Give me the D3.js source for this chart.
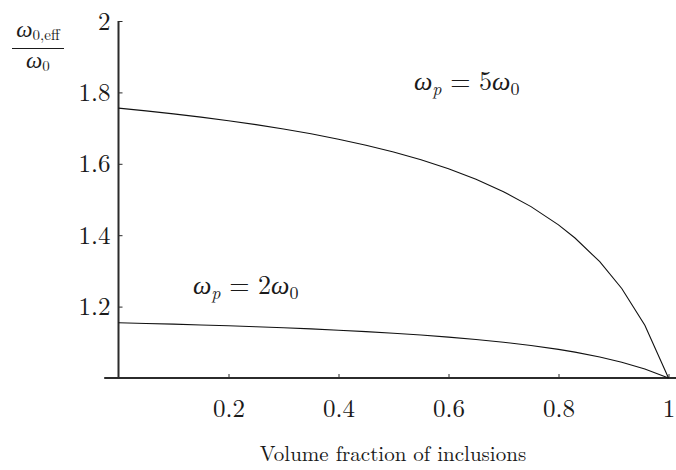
<!DOCTYPE html>
<html>
<head>
<meta charset="utf-8">
<script src="https://cdn.jsdelivr.net/npm/d3@7"></script>
<style>
  html, body { margin: 0; padding: 0; background: #fff; }
  svg { display: block; }
  text { font-family: "Latin Modern Roman", "Liberation Serif", serif; fill: #1a1a1a; }
</style>
</head>
<body>
<svg id="chart" width="676" height="470"></svg>
<script>
// ---- data ----
const fraction = [0, 0.05, 0.1, 0.15, 0.2, 0.25, 0.3, 0.35, 0.4, 0.45, 0.5, 0.55, 0.6, 0.65, 0.7, 0.75, 0.8, 0.83, 0.875, 0.915, 0.957, 1];
const omegaP5 = [1.7559, 1.7482, 1.7398, 1.7307, 1.7207, 1.7097, 1.6976, 1.6841, 1.6690, 1.6521, 1.6330, 1.6111, 1.5859, 1.5565, 1.5218, 1.4800, 1.4289, 1.3922, 1.3257, 1.2508, 1.1478, 1.0];
const omegaP2 = [1.1547, 1.1528, 1.1508, 1.1486, 1.1462, 1.1435, 1.1407, 1.1375, 1.1339, 1.1299, 1.1255, 1.1204, 1.1146, 1.1080, 1.1002, 1.0911, 1.0801, 1.0724, 1.0589, 1.0442, 1.0251, 1.0];
const xTicks = [0.2, 0.4, 0.6, 0.8, 1];
const xTickLabels = ["0.2", "0.4", "0.6", "0.8", "1"];
const yTicks = [1.2, 1.4, 1.6, 1.8, 2];
const yTickLabels = ["1.2", "1.4", "1.6", "1.8", "2"];
const xTitle = "Volume fraction of inclusions";

// ---- layout ----
const FONT = '"Latin Modern Roman", "Liberation Serif", serif';
const svg = d3.select("#chart");
const x = d3.scaleLinear().domain([0, 1]).range([118.5, 668.5]);
const y = d3.scaleLinear().domain([1, 2]).range([378, 21]);
const axisColor = "#2b2b2b";

// x axis
const gx = svg.append("g").attr("transform", `translate(0,${y(1)})`)
  .call(d3.axisBottom(x).tickValues(xTicks)
    .tickFormat((d, i) => xTickLabels[i])
    .tickSizeInner(-4).tickSizeOuter(0).tickPadding(21));
gx.select(".domain").remove();
gx.selectAll(".tick line").attr("stroke", axisColor).attr("stroke-width", 1);
gx.selectAll(".tick text").attr("font-size", 25).attr("font-family", FONT).attr("fill", "#1a1a1a");
gx.append("line").attr("x1", x(-0.026)).attr("x2", 676).attr("y1", 0).attr("y2", 0)
  .attr("stroke", axisColor).attr("stroke-width", 2);

// y axis
const gy = svg.append("g").attr("transform", `translate(${x(0)},0)`)
  .call(d3.axisLeft(y).tickValues(yTicks)
    .tickFormat((d, i) => yTickLabels[i])
    .tickSizeInner(-4).tickSizeOuter(0).tickPadding(8));
gy.select(".domain").remove();
gy.selectAll(".tick line").attr("stroke", axisColor).attr("stroke-width", 1);
gy.selectAll(".tick text").attr("font-size", 25).attr("font-family", FONT).attr("fill", "#1a1a1a");
gy.append("line").attr("x1", 0).attr("x2", 0).attr("y1", y(2)).attr("y2", y(1))
  .attr("stroke", axisColor).attr("stroke-width", 2);

// curves
const line = d3.line().x(d => x(d[0])).y(d => y(d[1]));
[omegaP5, omegaP2].forEach(vals => {
  svg.append("path")
    .datum(fraction.map((f, i) => [f, vals[i]]))
    .attr("d", line)
    .attr("fill", "none")
    .attr("stroke", "#111")
    .attr("stroke-width", 1.1);
});

// curve labels
function omegaLabel(xp, yp, n) {
  const t = svg.append("text").attr("x", xp).attr("y", yp).attr("font-size", 26);
  t.append("tspan").attr("font-style", "italic").text("ω");
  t.append("tspan").attr("font-style", "italic").attr("font-size", 18).attr("dy", 5).text("p");
  t.append("tspan").attr("dy", -5).text(" = " + n);
  t.append("tspan").attr("font-style", "italic").text("ω");
  t.append("tspan").attr("font-size", 18).attr("dy", 5).text("0");
}
omegaLabel(414, 90, 5);
omegaLabel(193, 294, 2);

// y title (fraction)
const num = svg.append("text").attr("x", 38).attr("y", 37).attr("text-anchor", "middle").attr("font-size", 23);
num.append("tspan").attr("font-style", "italic").text("ω");
num.append("tspan").attr("font-size", 15).attr("dy", 3).text("0,eff");
svg.append("line").attr("x1", 12).attr("x2", 64).attr("y1", 48.5).attr("y2", 48.5)
  .attr("stroke", "#1a1a1a").attr("stroke-width", 1);
const den = svg.append("text").attr("x", 38).attr("y", 68).attr("text-anchor", "middle").attr("font-size", 23);
den.append("tspan").attr("font-style", "italic").text("ω");
den.append("tspan").attr("font-size", 15).attr("dy", 3).text("0");

// x title
svg.append("text").attr("x", 393).attr("y", 461).attr("text-anchor", "middle")
  .attr("font-size", 21).text(xTitle);
</script>
</body>
</html>
